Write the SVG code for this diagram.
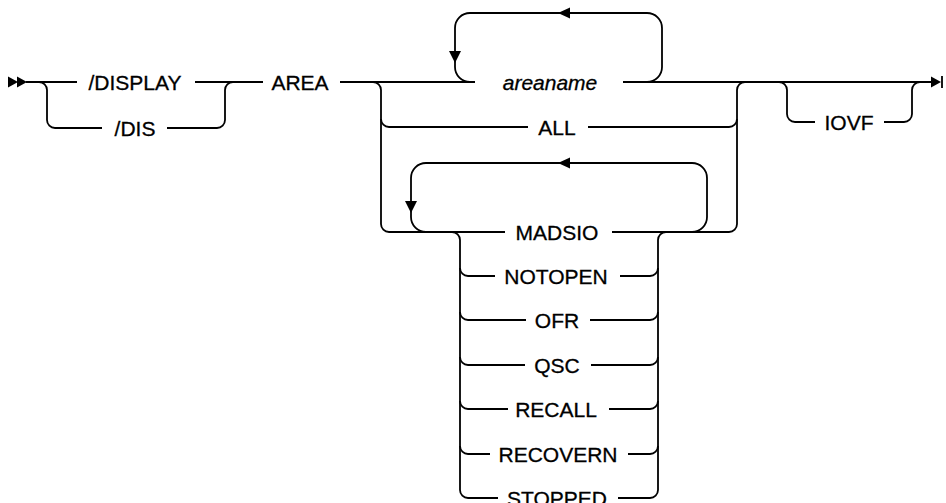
<svg xmlns="http://www.w3.org/2000/svg" xmlns:xlink="http://www.w3.org/1999/xlink" width="946" height="503" viewBox="0 0 946 503">
<style>
.l{fill:none;stroke:#000;stroke-width:1.8}
.a{fill:#000;stroke:none}
text{font-family:"Liberation Sans",Arial,sans-serif;font-size:21px;text-anchor:middle;fill:#000;stroke:#000;stroke-width:0.3}
.v{font-style:italic}
</style>
<defs>
<path id="al" d="M0,0 L12,-5.5 L12,5.5 Z"/>
<path id="ad" d="M0,0 L-6,-12 L6,-12 Z"/>
<path id="ar" d="M0,0 L-10,-5.5 L-10,5.5 Z"/>
</defs>
<rect width="946" height="503" fill="#ffffff"/>
<g id="connectors">
<use href="#ar" class="a" x="18" y="82"/>
<use href="#ar" class="a" x="27" y="82"/>
<use href="#ar" class="a" x="941" y="82"/>
<path class="l" d="M942,76 V88"/>
<path class="l" d="M26,82 H77 M195,82 H263 M340,82 H475 M623,82 H932"/>
<path class="l" d="M39,82 a8,8 0 0 1 8,8 V120 a8,8 0 0 0 8,8 H102"/>
<path class="l" d="M167,128 H217 a8,8 0 0 0 8,-8 V90 a8,8 0 0 1 8,-8"/>
<path class="l" d="M373,82 a8,8 0 0 1 8,8 V224 a8,8 0 0 0 8,8 H505"/>
<path class="l" d="M381,119 a8,8 0 0 0 8,8 H528"/>
<path class="l" d="M588,127 H729 a8,8 0 0 0 8,-8"/>
<path class="l" d="M612,232 H729 a8,8 0 0 0 8,-8 V90 a8,8 0 0 1 8,-8"/>
<path class="l" d="M475,82 H470 a15,15 0 0 1 -15,-15 V28 a15,15 0 0 1 15,-15 H647 a15,15 0 0 1 15,15 V67 a15,15 0 0 1 -15,15 H623"/>
<use href="#al" class="a" x="558" y="13"/>
<use href="#ad" class="a" x="455" y="63"/>
<path class="l" d="M426,232 a15,15 0 0 1 -15,-15 V178 a15,15 0 0 1 15,-15 H692 a15,15 0 0 1 15,15 V217 a15,15 0 0 1 -15,15"/>
<use href="#al" class="a" x="558" y="163"/>
<use href="#ad" class="a" x="411" y="213"/>
<path class="l" d="M452,232 a8,8 0 0 1 8,8 V490 a8,8 0 0 0 8,8 H498"/>
<path class="l" d="M618,498 H650 a8,8 0 0 0 8,-8 V240 a8,8 0 0 1 8,-8"/>
<path class="l" d="M460,268 a8,8 0 0 0 8,8 H495 M620,276 H650 a8,8 0 0 0 8,-8"/>
<path class="l" d="M460,312 a8,8 0 0 0 8,8 H526 M590,320 H650 a8,8 0 0 0 8,-8"/>
<path class="l" d="M460,357 a8,8 0 0 0 8,8 H525 M591,365 H650 a8,8 0 0 0 8,-8"/>
<path class="l" d="M460,401 a8,8 0 0 0 8,8 H508 M609,409 H650 a8,8 0 0 0 8,-8"/>
<path class="l" d="M460,446 a8,8 0 0 0 8,8 H490 M628,454 H650 a8,8 0 0 0 8,-8"/>
<path class="l" d="M779,82 a8,8 0 0 1 8,8 V114 a8,8 0 0 0 8,8 H815"/>
<path class="l" d="M884,122 H904 a8,8 0 0 0 8,-8 V90 a8,8 0 0 1 8,-8"/>
</g>
<g id="n-display"><text x="135" y="89.5">/DISPLAY</text></g>
<g id="n-dis"><text x="135" y="135.5">/DIS</text></g>
<g id="n-area"><text x="300" y="89.5">AREA</text></g>
<g id="n-areaname"><text class="v" x="550" y="89.5">areaname</text></g>
<g id="n-all"><text x="557" y="134.5">ALL</text></g>
<g id="n-madsio"><text x="557" y="239.5">MADSIO</text></g>
<g id="n-notopen"><text x="556" y="283.5">NOTOPEN</text></g>
<g id="n-ofr"><text x="557" y="327.5">OFR</text></g>
<g id="n-qsc"><text x="557" y="372.5">QSC</text></g>
<g id="n-recall"><text x="556" y="416.5">RECALL</text></g>
<g id="n-recovern"><text x="558" y="461.5">RECOVERN</text></g>
<g id="n-stopped"><text x="557" y="505.5">STOPPED</text></g>
<g id="n-iovf"><text x="849" y="129.5">IOVF</text></g>
</svg>
